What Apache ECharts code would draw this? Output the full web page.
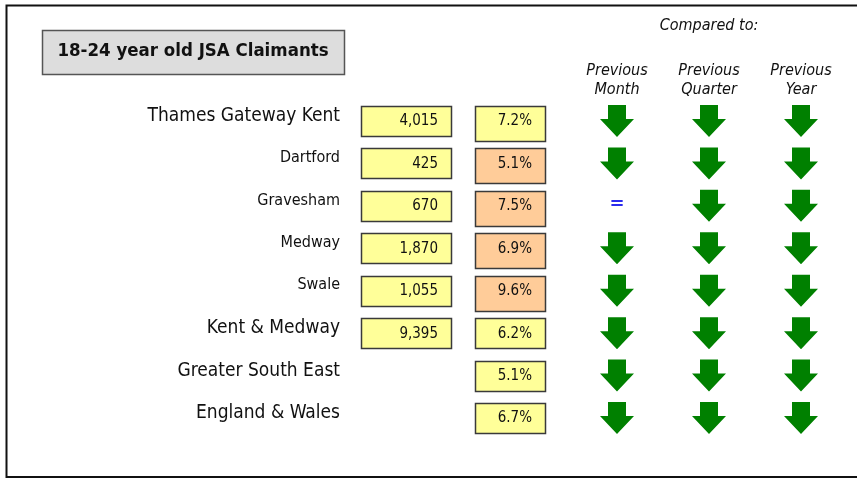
<!DOCTYPE html>
<html>
<head>
<meta charset="utf-8">
<script src="https://cdn.jsdelivr.net/npm/echarts@6/dist/echarts.min.js"></script>
<style>html,body{margin:0;padding:0;background:#fff}#c{width:857px;height:479px}</style>
</head>
<body>
<div id="c"></div>
<script>
// ---- data ----
const titleText = '18-24 year old JSA Claimants';
const comparedTo = 'Compared to:';
const regions = ['Thames Gateway Kent', 'Dartford', 'Gravesham', 'Medway', 'Swale', 'Kent & Medway', 'Greater South East', 'England & Wales'];
const isDistrict = [false, true, true, true, true, false, false, false];
const claimants = [4015, 425, 670, 1870, 1055, 9395, null, null];
const rates = [7.2, 5.1, 7.5, 6.9, 9.6, 6.2, 5.1, 6.7];
const comparisons = ['Previous\nMonth', 'Previous\nQuarter', 'Previous\nYear'];
const vsMonth = ['down', 'down', 'same', 'down', 'down', 'down', 'down', 'down'];
const vsQuarter = ['down', 'down', 'down', 'down', 'down', 'down', 'down', 'down'];
const vsYear = ['down', 'down', 'down', 'down', 'down', 'down', 'down', 'down'];

// ---- styles ----
const FONT = "'DejaVu Sans Condensed', 'DejaVu Sans', sans-serif";
const GRID_TOP = 99.8, GRID_H = 339.4;
const arrowPath = 'path://M8,0 L26,0 L26,14 L34,14 L17,32 L0,14 L8,14 Z';

const chart = echarts.init(document.getElementById('c'), null, {renderer: 'canvas'});

function boxItem(w, hFn, fillFn, textFn) {
  return function (params, api) {
    const i = api.value(1);
    const p = api.coord([api.value(0), i]);
    const h = hFn(i);
    const top = p[1] - 15;
    return {
      type: 'group',
      children: [
        {type: 'rect', shape: {x: Math.round(p[0] - w / 2) + 0.5, y: Math.round(top) + 0.5, width: w, height: h},
         style: {fill: fillFn(i), stroke: '#3a3a3a', lineWidth: 1.5}},
        {type: 'text', style: {text: textFn(api.value(2)), x: p[0] + w / 2 - 13, y: top + 15.5,
         align: 'right', verticalAlign: 'middle', font: '15px ' + FONT, fill: '#111'}}
      ]
    };
  };
}

const claimData = [];
claimants.forEach((v, i) => { if (v != null) claimData.push([0, i, v]); });
const rateData = rates.map((v, i) => [1, i, v]);

const arrowData = [];
[vsMonth, vsQuarter, vsYear].forEach((arr, c) => {
  arr.forEach((d, r) => {
    if (d === 'same') {
      arrowData.push({value: [c, r], symbol: 'rect', symbolSize: 2, itemStyle: {color: 'rgba(0,0,0,0)'},
        label: {show: true, position: 'inside', formatter: '=', color: '#2a2aee', fontSize: 18, fontWeight: 'bold', fontFamily: 'DejaVu Sans', offset: [0, -2]}});
    } else {
      arrowData.push({value: [c, r], symbolRotate: d === 'up' ? 180 : 0});
    }
  });
});

const option = {
  animation: false,
  backgroundColor: '#fff',
  graphic: [
    {type: 'rect', shape: {x: 6.5, y: 5.5, width: 900, height: 471.5}, style: {fill: 'none', stroke: '#111', lineWidth: 2}, silent: true},
    {type: 'rect', shape: {x: 42.5, y: 30.5, width: 302, height: 44}, style: {fill: '#dddddd', stroke: '#555', lineWidth: 1.5}, silent: true},
    {type: 'text', x: 193, y: 51.5, style: {text: titleText, align: 'center', verticalAlign: 'middle', font: 'bold 18.5px ' + FONT, fill: '#111'}, silent: true}
  ],
  grid: [
    {left: 354, width: 208, top: GRID_TOP, height: GRID_H},
    {left: 571, width: 276, top: GRID_TOP, height: GRID_H}
  ],
  xAxis: [
    {type: 'category', gridIndex: 0, data: ['Claimants', 'Rate'], show: false},
    {type: 'category', gridIndex: 1, data: comparisons, position: 'top',
     axisLine: {show: false}, axisTick: {show: false}, splitLine: {show: false},
     axisLabel: {margin: 0, fontSize: 16, lineHeight: 19, fontStyle: 'italic', fontFamily: FONT, color: '#111', interval: 0},
     name: comparedTo, nameLocation: 'middle', nameGap: 66,
     nameTextStyle: {fontSize: 16, fontStyle: 'italic', fontFamily: FONT, color: '#111'}}
  ],
  yAxis: [
    {type: 'category', gridIndex: 0, data: regions, inverse: true,
     axisLine: {show: false}, axisTick: {show: false}, splitLine: {show: false},
     axisLabel: {margin: 14, interval: 0,
       formatter: (v, i) => isDistrict[i] ? '{small|' + v + '}' : '{big|' + v + '}',
       rich: {
         big: {fontSize: 19, fontFamily: FONT, color: '#111', padding: [0, 0, 10, 0]},
         small: {fontSize: 16, fontFamily: FONT, color: '#111', padding: [0, 0, 11, 0]}
       }}},
    {type: 'category', gridIndex: 1, data: regions, inverse: true, show: false}
  ],
  series: [
    {type: 'custom', name: 'Claimants', xAxisIndex: 0, yAxisIndex: 0, data: claimData,
     renderItem: boxItem(90, () => 30, () => '#ffff99', v => Number(v).toLocaleString('en-GB'))},
    {type: 'custom', name: 'Rate', xAxisIndex: 0, yAxisIndex: 0, data: rateData,
     renderItem: boxItem(70, i => isDistrict[i] || i === 0 ? 35 : 30, i => isDistrict[i] ? '#ffcc99' : '#ffff99', v => Number(v).toFixed(1) + '%')},
    {type: 'scatter', name: 'Change', xAxisIndex: 1, yAxisIndex: 1, data: arrowData,
     symbol: arrowPath, symbolSize: [34, 32], itemStyle: {color: '#008000', opacity: 1}}
  ]
};
chart.setOption(option);
</script>
</body>
</html>
